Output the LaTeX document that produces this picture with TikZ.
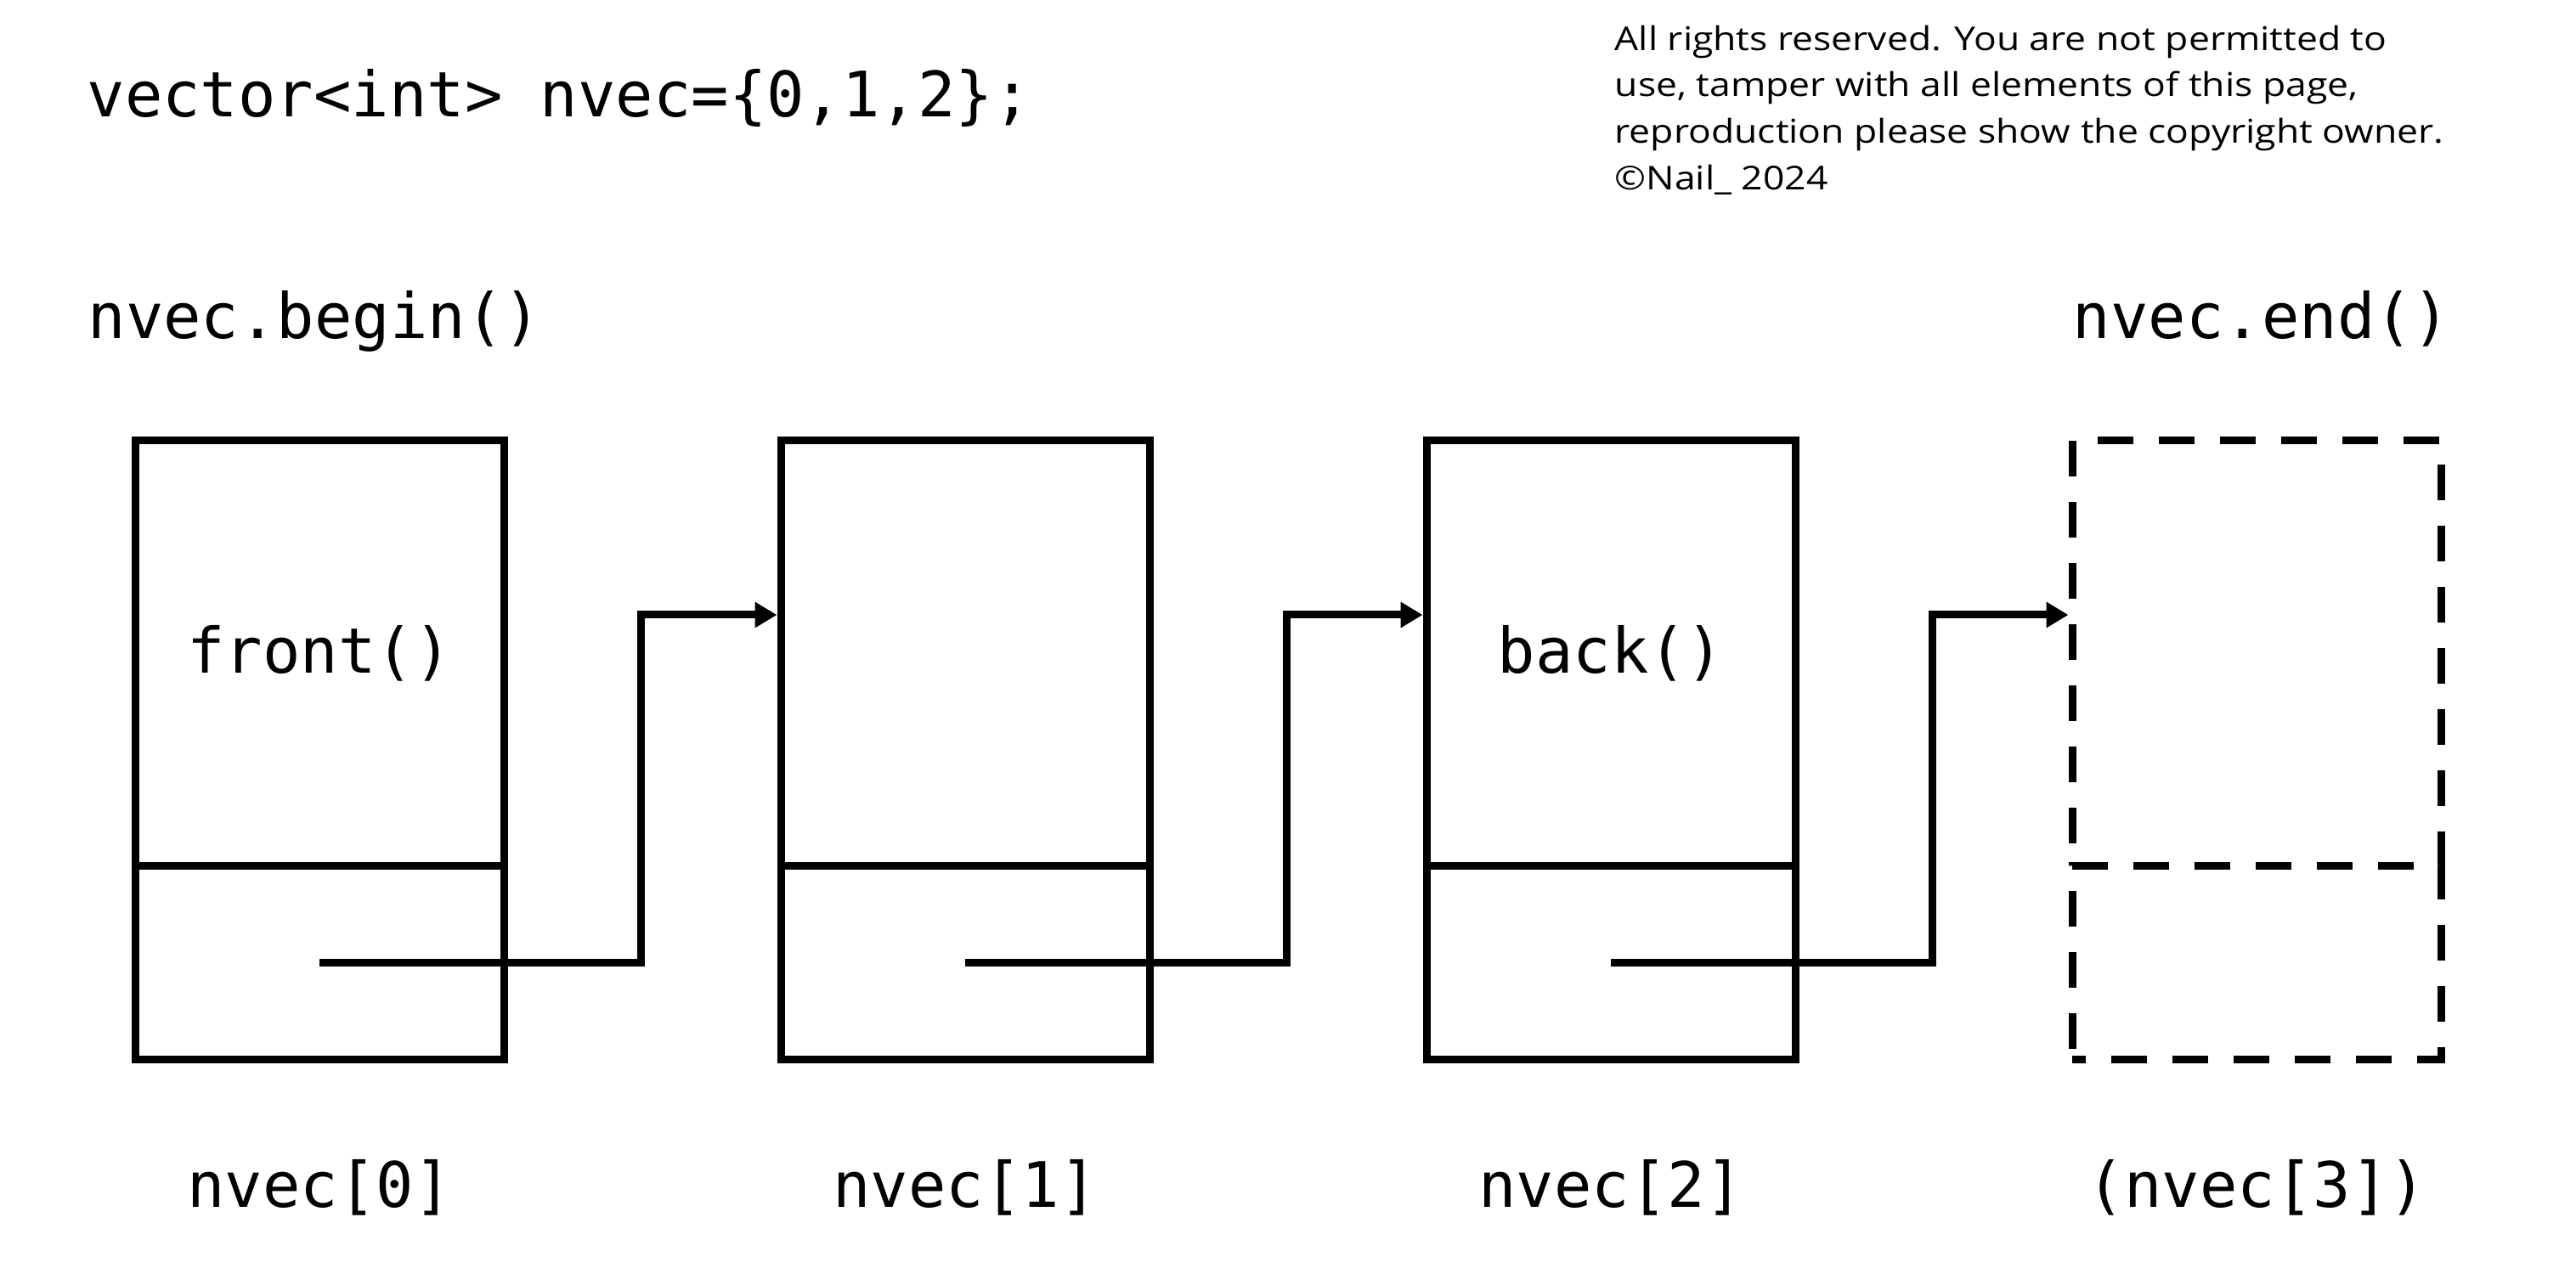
\documentclass[tikz,border=0pt]{standalone}
\usepackage{fontspec}
\usetikzlibrary{arrows.meta}
\newfontfamily\codefont{DejaVu Sans Mono}
\newfontfamily\notefont[FakeStretch=1.15]{Open Sans}
\begin{document}
\begin{tikzpicture}[
  cell/.style={draw, line width=0.09cm, minimum width=4.34cm, inner sep=0pt, font=\codefont\fontsize{21}{26}\selectfont},
  topcell/.style={cell, minimum height=5cm},
  botcell/.style={cell, minimum height=2.28cm},
  ghost/.style={dash pattern=on 0.42cm off 0.30cm},
  code/.style={font=\codefont\fontsize{21}{26}\selectfont, inner sep=0pt},
  link/.style={line width=0.09cm, -{Triangle[length=2.6mm,width=2.9mm]}},
  note/.style={font=\notefont\fontsize{11}{15.6}\selectfont, inner sep=0pt, align=left}
]
\useasboundingbox (0,0) rectangle (30.32,14.92);

\node[code, anchor=base west] (title) at (1.02,13.54) {vector<int> nvec=\{0,1,2\};};
\node[note, anchor=base west] (copy) at (19.0,12.685) {All rights reserved. You are not permitted to\\use, tamper with all elements of this page,\\reproduction please show the copyright owner.\\©Nail\_ 2024};

\node[code, anchor=base west] (begin) at (1.03,10.93) {nvec.begin()};
\node[code, anchor=base east] (end) at (28.85,10.93) {nvec.end()};

\node[topcell] (t0) at (3.76,7.23) {front()};
\node[botcell] (b0) at (3.76,3.59) {};
\node[topcell] (t1) at (11.36,7.23) {};
\node[botcell] (b1) at (11.36,3.59) {};
\node[topcell] (t2) at (18.96,7.23) {back()};
\node[botcell] (b2) at (18.96,3.59) {};
\node[topcell, ghost] (t3) at (26.56,7.23) {};
\node[botcell, ghost, dash phase=0.26cm] (b3) at (26.56,3.59) {};

\draw[link] (b0.center) -| ([xshift=-1.6cm,yshift=4.5mm]t1.west) -- ([yshift=4.5mm]t1.west);
\draw[link] (b1.center) -| ([xshift=-1.6cm,yshift=4.5mm]t2.west) -- ([yshift=4.5mm]t2.west);
\draw[link] (b2.center) -| ([xshift=-1.6cm,yshift=4.5mm]t3.west) -- ([yshift=4.5mm]t3.west);

\node[code, anchor=base] (l0) at (3.76,0.71) {nvec[0]};
\node[code, anchor=base] (l1) at (11.36,0.71) {nvec[1]};
\node[code, anchor=base] (l2) at (18.96,0.71) {nvec[2]};
\node[code, anchor=base] (l3) at (26.56,0.71) {(nvec[3])};
\end{tikzpicture}
\end{document}
